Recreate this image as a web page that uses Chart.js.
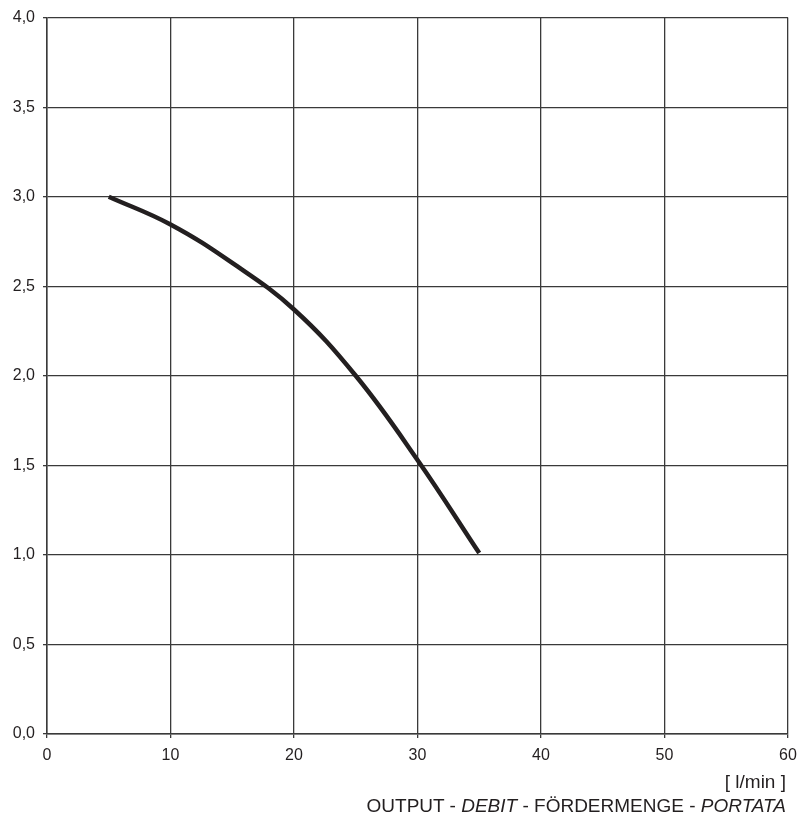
<!DOCTYPE html>
<html>
<head>
<meta charset="utf-8">
<script src="https://cdn.jsdelivr.net/npm/chart.js@4/dist/chart.umd.min.js"></script>
<style>
  html, body { margin: 0; padding: 0; background: #fff; }
  #wrap { position: relative; width: 812px; height: 817px; }
  #axisNote {
    position: absolute; right: 26px; top: 770px;
    font-family: "Liberation Sans", Arial, sans-serif; font-size: 19px;
    line-height: 24px; color: #231f20; text-align: right; white-space: nowrap;
  }
</style>
</head>
<body>
<div id="wrap">
  <canvas id="pumpChart" width="812" height="817"></canvas>
  <div id="axisNote">
    <div>[ l/min ]</div>
    <div>OUTPUT - <i>DEBIT</i> - FÖRDERMENGE - <i>PORTATA</i></div>
  </div>
</div>
<script>
// pump curve
const flowLpm = [5, 10, 15, 20, 25, 30, 35];
const headValues = [3.0, 2.845, 2.63, 2.37, 2.0, 1.53, 1.01];

const xTicks = [0, 10, 20, 30, 40, 50, 60];
const yTicks = [0, 0.5, 1, 1.5, 2, 2.5, 3, 3.5, 4];

const gridColor = '#3a3a3a';
const textColor = '#231f20';
const fontFamily = '"Liberation Sans", Arial, sans-serif';

const ctx = document.getElementById('pumpChart').getContext('2d');
new Chart(ctx, {
  type: 'line',
  data: {
    datasets: [{
      data: flowLpm.map((x, i) => ({ x: x, y: headValues[i] })),
      borderColor: '#231f20',
      borderWidth: 4.5,
      pointRadius: 0,
      fill: false,
      tension: 0.4,
      borderCapStyle: 'butt',
    }],
  },
  options: {
    responsive: false,
    animation: false,
    layout: { padding: { top: 16, right: 24, left: 0, bottom: 0 } },
    plugins: {
      legend: { display: false },
      tooltip: { enabled: false },
    },
    scales: {
      x: {
        type: 'linear',
        min: xTicks[0],
        max: xTicks[xTicks.length - 1],
        afterFit: scale => { scale.height = 83; },
        afterBuildTicks: scale => { scale.ticks = xTicks.map(v => ({ value: v })); },
        grid: { color: gridColor, lineWidth: 1.3, tickLength: 4 },
        border: { color: gridColor, width: 1.5 },
        ticks: {
          color: textColor,
          padding: 8,
          maxRotation: 0,
          font: { family: fontFamily, size: 16 },
        },
      },
      y: {
        min: yTicks[0],
        max: yTicks[yTicks.length - 1],
        afterFit: scale => { scale.width = 47; },
        afterBuildTicks: scale => { scale.ticks = yTicks.map(v => ({ value: v })); },
        grid: { color: gridColor, lineWidth: 1.3, tickLength: 4 },
        border: { color: gridColor, width: 1.5 },
        ticks: {
          color: textColor,
          padding: 8,
          font: { family: fontFamily, size: 16 },
          callback: v => v.toFixed(1).replace('.', ','),
        },
      },
    },
  },
});
</script>
</body>
</html>
